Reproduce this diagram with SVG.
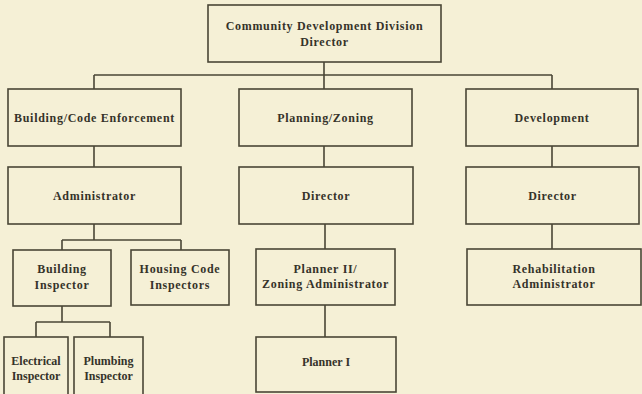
<svg xmlns="http://www.w3.org/2000/svg" width="642" height="394" viewBox="0 0 642 394">
<style>
.bx{fill:none;stroke:#4a4636;stroke-width:1.6}
.ln{fill:none;stroke:#4a4636;stroke-width:1.6}
text{font-family:"Liberation Serif","Times New Roman",serif;font-weight:bold;font-size:12px;fill:#35332a;text-anchor:middle;letter-spacing:0.7px}
.t{letter-spacing:0}
</style>
<rect width="642" height="394" fill="#f5f0d6"/>
<g id="connectors">
<path class="ln" d="M324,62V75M94,75H552M94,75V89M324,75V89M552,75V89"/>
<path class="ln" d="M94,146V167M324,146V167M552,146V167"/>
<path class="ln" d="M94,224V240M62,240H181M62,240V250M181,240V250"/>
<path class="ln" d="M62,306V322M36,322H110M36,322V337M110,322V337"/>
<path class="ln" d="M325,224V249M325,305V337M552,224V249"/>
</g>
<g id="director-cdd"><rect class="bx" x="208" y="5" width="233" height="57"/><text x="324.5" y="30">Community Development Division</text><text x="324.5" y="46">Director</text></g>
<g id="building-code"><rect class="bx" x="8" y="89" width="173" height="57"/><text x="94.5" y="121.5">Building/Code Enforcement</text></g>
<g id="planning-zoning"><rect class="bx" x="239" y="89" width="173" height="57"/><text x="325.5" y="121.5">Planning/Zoning</text></g>
<g id="development"><rect class="bx" x="466" y="89" width="172" height="57"/><text x="552" y="121.5">Development</text></g>
<g id="administrator"><rect class="bx" x="8" y="167" width="173" height="57"/><text x="94.5" y="199.5">Administrator</text></g>
<g id="pz-director"><rect class="bx" x="239" y="167" width="174" height="57"/><text x="326" y="199.5">Director</text></g>
<g id="dev-director"><rect class="bx" x="466" y="167" width="173" height="57"/><text x="552.5" y="199.5">Director</text></g>
<g id="building-inspector"><rect class="bx" x="13" y="250" width="98" height="56"/><text x="62" y="273">Building</text><text x="62" y="288.5">Inspector</text></g>
<g id="housing-code"><rect class="bx" x="131" y="250" width="98" height="55"/><text x="180" y="273">Housing Code</text><text x="180" y="288.5">Inspectors</text></g>
<g id="planner-ii"><rect class="bx" x="256" y="249" width="139" height="56"/><text x="325.5" y="272.5">Planner II/</text><text x="325.5" y="288">Zoning Administrator</text></g>
<g id="rehab"><rect class="bx" x="467" y="249" width="174" height="56"/><text x="554" y="272.5">Rehabilitation</text><text x="554" y="288">Administrator</text></g>
<g id="electrical"><rect class="bx" x="4" y="337" width="64" height="60"/><text class="t" x="36" y="365">Electrical</text><text class="t" x="36" y="379.5">Inspector</text></g>
<g id="plumbing"><rect class="bx" x="74" y="337" width="69" height="60"/><text class="t" x="108.5" y="365">Plumbing</text><text class="t" x="108.5" y="379.5">Inspector</text></g>
<g id="planner-i"><rect class="bx" x="256" y="337" width="140" height="55"/><text class="t" x="326" y="365.5">Planner I</text></g>
</svg>
